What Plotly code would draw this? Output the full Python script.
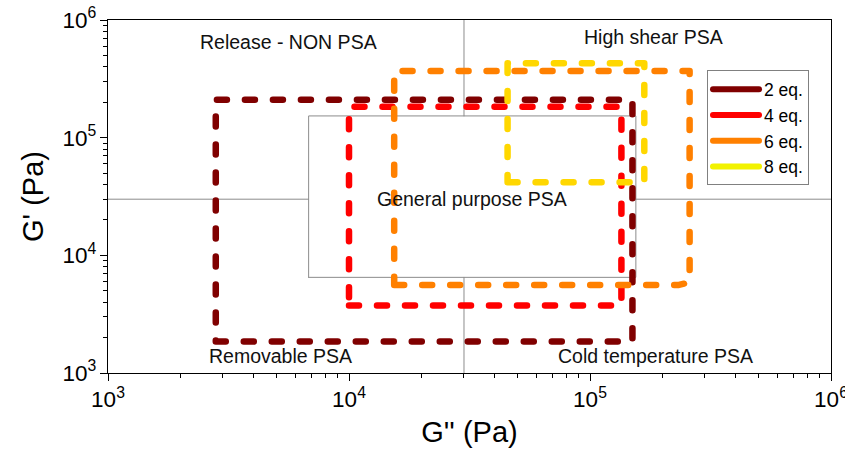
import plotly.graph_objects as go
import numpy as np

# ---- data ----
series_names = ["2 eq.", "4 eq.", "6 eq.", "8 eq."]
line_colors = ["#800000", "#FF0000", "#FF8000", "#FFD700"]
legend_colors = ["#800000", "#FF0000", "#FF8000", "#F2F200"]

eq2_x = [2.8e3, 1.5e5, 1.5e5, 2.8e3, 2.8e3]
eq2_y = [1.85e3, 1.85e3, 2.1e5, 2.1e5, 1.85e3]
eq4_x = [1.0e4, 1.35e5, 1.35e5, 1.0e4, 1.0e4]
eq4_y = [3.75e3, 3.75e3, 1.83e5, 1.83e5, 3.75e3]
eq6_x = [1.54e4, 2.34e5, 2.59e5, 2.59e5, 1.54e4, 1.54e4]
eq6_y = [5.6e3, 5.6e3, 5.9e3, 3.68e5, 3.68e5, 5.6e3]
eq8_x = [4.55e4, 1.68e5, 1.68e5, 4.55e4, 4.55e4]
eq8_y = [4.18e4, 4.18e4, 4.28e5, 4.28e5, 4.18e4]

# general purpose window and region dividers
gp_x = [6.8e3, 1.55e5, 1.55e5, 6.8e3, 6.8e3]
gp_y = [6.5e3, 6.5e3, 1.53e5, 1.53e5, 6.5e3]
divider = 3.0e4
hline_x = [1e3, 6.8e3, None, 1.55e5, 1e6]
hline_y = [divider, divider, None, divider, divider]
vline_x = [divider, divider, None, divider, divider]
vline_y = [1e6, 1.53e5, None, 6.5e3, 1e3]

region_labels = ["Release - NON PSA", "High shear PSA", "General purpose PSA",
                 "Removable PSA", "Cold temperature PSA"]
region_x = [5.61e3, 1.84e5, 3.23e4, 5.22e3, 1.87e5]
region_y = [6.55e5, 7.2e5, 3.0e4, 1.39e3, 1.39e3]

font_family = "Arial, Liberation Sans, sans-serif"

fig = go.Figure()

grey = "#8c8c8c"
for xs, ys in [(hline_x, hline_y), (vline_x, vline_y), (gp_x, gp_y)]:
    fig.add_trace(go.Scatter(x=xs, y=ys, mode="lines", showlegend=False,
                             line=dict(color=grey, width=1), hoverinfo="skip"))

box_x = [eq2_x, eq4_x, eq6_x, eq8_x]
box_y = [eq2_y, eq4_y, eq6_y, eq8_y]
for name, xs, ys, c in zip(series_names, box_x, box_y, line_colors):
    fig.add_trace(go.Scatter(x=xs, y=ys, mode="lines", name=name, showlegend=False,
                             line=dict(color=c, width=6.5, dash="10px,18px")))

for name, c in zip(series_names, legend_colors):
    fig.add_trace(go.Scatter(x=[None], y=[None], mode="lines", name=name,
                             line=dict(color=c, width=6)))

for t, x, y in zip(region_labels, region_x, region_y):
    fig.add_annotation(x=np.log10(x), y=np.log10(y), xref="x", yref="y", text=t,
                       showarrow=False, font=dict(size=19.5, color="#111111"))

axis_common = dict(type="log", range=[3, 6], showgrid=False, zeroline=False,
                   showline=True, linecolor="black", linewidth=1.3, mirror=True,
                   ticks="outside", ticklen=7, tickwidth=1.2, tickcolor="black",
                   dtick=1, exponentformat="power", automargin=False,
                   ticklabeloverflow="allow",
                   tickfont=dict(size=18, color="black", family=font_family),
                   minor=dict(ticks="outside", ticklen=3.5, tickwidth=1,
                              tickcolor="black", dtick="D1", showgrid=False))

fig.update_layout(
    width=845, height=452,
    margin=dict(l=108, r=14, t=20, b=79),
    paper_bgcolor="white", plot_bgcolor="white",
    font=dict(family=font_family, color="black"),
    xaxis=dict(axis_common, title=dict(text="G'' (Pa)", font=dict(size=29), standoff=10)),
    yaxis=dict(axis_common, title=dict(text="G' (Pa)", font=dict(size=29), standoff=10)),
    legend=dict(x=0.8285, y=0.857, xanchor="left", yanchor="top",
                bordercolor="#808080", borderwidth=1, bgcolor="white",
                font=dict(size=17.5, color="black"), itemwidth=46,
                tracegroupgap=0),
)

post = ("var s=document.createElement('style');"
        "s.textContent='body{margin:0;padding:0;} .js-line{stroke-linecap:round;stroke-linejoin:round;}';"
        "document.head.appendChild(s);")
fig.write_html("out.html", post_script=post, config={"displayModeBar": False})
